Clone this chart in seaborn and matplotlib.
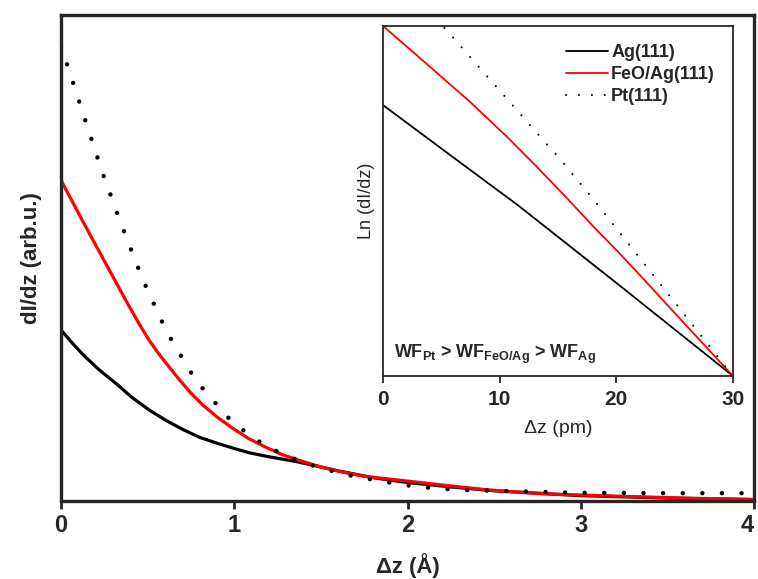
import numpy as np
import pandas as pd
import matplotlib
matplotlib.use("Agg")
import matplotlib.pyplot as plt
import matplotlib.transforms as mtransforms
import seaborn as sns

# Curvas principales, dI/dz en unidades arbitrarias
ag_x = [0, 0.065, 0.13, 0.22, 0.32, 0.41, 0.51, 0.61, 0.71, 0.80, 0.90, 1.0, 1.09, 1.2, 1.36,
        1.5, 1.6, 1.8, 2.0, 2.25, 2.5, 2.75, 3.0, 3.5, 4.0]
ag_y = [0.352, 0.325, 0.300, 0.270, 0.241, 0.213, 0.187, 0.165, 0.146, 0.131, 0.119, 0.108,
        0.099, 0.091, 0.081, 0.070, 0.062, 0.048, 0.038, 0.029, 0.021, 0.016, 0.011, 0.006, 0.003]

feo_x = [0, 0.125, 0.25, 0.38, 0.45, 0.51, 0.56, 0.61, 0.68, 0.75, 0.82, 0.90, 0.99, 1.08, 1.18,
         1.28, 1.39, 1.50, 1.62, 1.75, 1.9, 2.05, 2.25, 2.46, 2.65, 2.84, 3.21, 3.6, 4.0]
feo_y = [0.660, 0.576, 0.494, 0.409, 0.365, 0.330, 0.305, 0.282, 0.251, 0.222, 0.197, 0.173,
         0.150, 0.129, 0.111, 0.095, 0.082, 0.070, 0.060, 0.051, 0.045, 0.039, 0.031, 0.023,
         0.018, 0.014, 0.010, 0.006, 0.003]

pt_x = [0, 0.127, 0.231, 0.345, 0.468, 0.607, 0.78, 0.994, 1.19, 1.405, 1.62, 1.84, 2.06, 2.29,
        2.51, 2.74, 2.96, 3.5, 4.0]
pt_y = [0.937, 0.798, 0.684, 0.572, 0.459, 0.350, 0.247, 0.160, 0.111, 0.078, 0.056, 0.041, 0.029,
        0.023, 0.021, 0.019, 0.017, 0.016, 0.016]

# Recuadro: Ln(dI/dz) frente a dz en pm
in_ag_x = [0, 5, 11.6, 20, 25, 30]
in_ag_y = [0.774, 0.650, 0.487, 0.266, 0.133, 0.0]
in_feo_x = [0, 2.5, 5.0, 7.5, 10.7, 13, 15.6, 18, 20, 22.5, 25, 27.5, 30]
in_feo_y = [1.0, 0.928, 0.855, 0.782, 0.681, 0.604, 0.514, 0.428, 0.360, 0.271, 0.180, 0.090, 0.0]
in_pt_x = [0, 5.4, 15.45, 18.0, 30]
in_pt_y = [1.19, 0.99, 0.609, 0.506, 0.0]

labels = ["Ag(111)", "FeO/Ag(111)", "Pt(111)"]
main_ticks = [0, 1, 2, 3, 4]
inset_ticks = [0, 10, 20, 30]

sns.set_style("ticks")
plt.rcParams["font.family"] = ["Liberation Sans", "DejaVu Sans"]
plt.rcParams["mathtext.fontset"] = "custom"
plt.rcParams["mathtext.bf"] = "Liberation Sans:bold"
plt.rcParams["mathtext.rm"] = "Liberation Sans"

fig = plt.figure(figsize=(7.58, 5.79), dpi=100)
ax = fig.add_axes([61 / 758, 78 / 579, 693 / 758, 486 / 579])

sns.lineplot(x=ag_x, y=ag_y, ax=ax, color="black", linewidth=2.3)
sns.lineplot(x=feo_x, y=feo_y, ax=ax, color="#ff0000", linewidth=2.3)
sns.lineplot(x=pt_x, y=pt_y, ax=ax, color="black", linewidth=3.2,
             linestyle=(0, (0.01, 4.4)), dash_capstyle="round")

ax.set_xlim(0, 4)
ax.set_ylim(0, 1)
ax.set_xticks(main_ticks)
ax.set_xticklabels([str(t) for t in main_ticks], fontsize=17, fontweight="bold")
ax.set_yticks([])
ax.tick_params(axis="x", direction="out", length=6, width=2, pad=3)
for s in ax.spines.values():
    s.set_linewidth(2.4)
ax.set_xlabel("Δz (Å)", fontsize=16, fontweight="bold", labelpad=12)
ax.set_ylabel("dI/dz (arb.u.)", fontsize=16, fontweight="bold", labelpad=14)

# el "4" queda pegado al borde: desplazarlo un poco a la izquierda
last = ax.get_xticklabels()[-1]
last.set_transform(last.get_transform() + mtransforms.ScaledTranslation(-5 / 72, 0, fig.dpi_scale_trans))

# Recuadro
axi = fig.add_axes([383 / 758, 203 / 579, 350 / 758, 350 / 579])
sns.lineplot(x=in_ag_x, y=in_ag_y, ax=axi, color="black", linewidth=1.3, label=labels[0])
sns.lineplot(x=in_feo_x, y=in_feo_y, ax=axi, color="#ff0000", linewidth=1.3, label=labels[1])
sns.lineplot(x=in_pt_x, y=in_pt_y, ax=axi, color="black", linewidth=1.5,
             linestyle=(0, (0.01, 6.2)), dash_capstyle="round", label=labels[2])

axi.set_xlim(0, 30)
axi.set_ylim(0, 1)
axi.set_xticks(inset_ticks)
axi.set_xticklabels([str(t) for t in inset_ticks], fontsize=15, fontweight="bold")
axi.set_yticks([])
axi.tick_params(axis="x", direction="out", length=5, width=1.3, pad=5)
for s in axi.spines.values():
    s.set_linewidth(1.3)
axi.set_xlabel("Δz (pm)", fontsize=14, labelpad=8)
axi.set_ylabel("Ln (dI/dz)", fontsize=13, labelpad=6)

leg = axi.legend(loc="upper right", frameon=False, fontsize=13, handlelength=2.3,
                 handletextpad=0.2, labelspacing=0.28, borderaxespad=0.6)
for t in leg.get_texts():
    t.set_fontweight("bold")

axi.text(0.03, 0.052, r"WF$_{\mathbf{Pt}}$ > WF$_{\mathbf{FeO/Ag}}$ > WF$_{\mathbf{Ag}}$",
         transform=axi.transAxes, fontsize=13, fontweight="bold", ha="left", va="baseline")

fig.savefig("out.png", dpi=100)
